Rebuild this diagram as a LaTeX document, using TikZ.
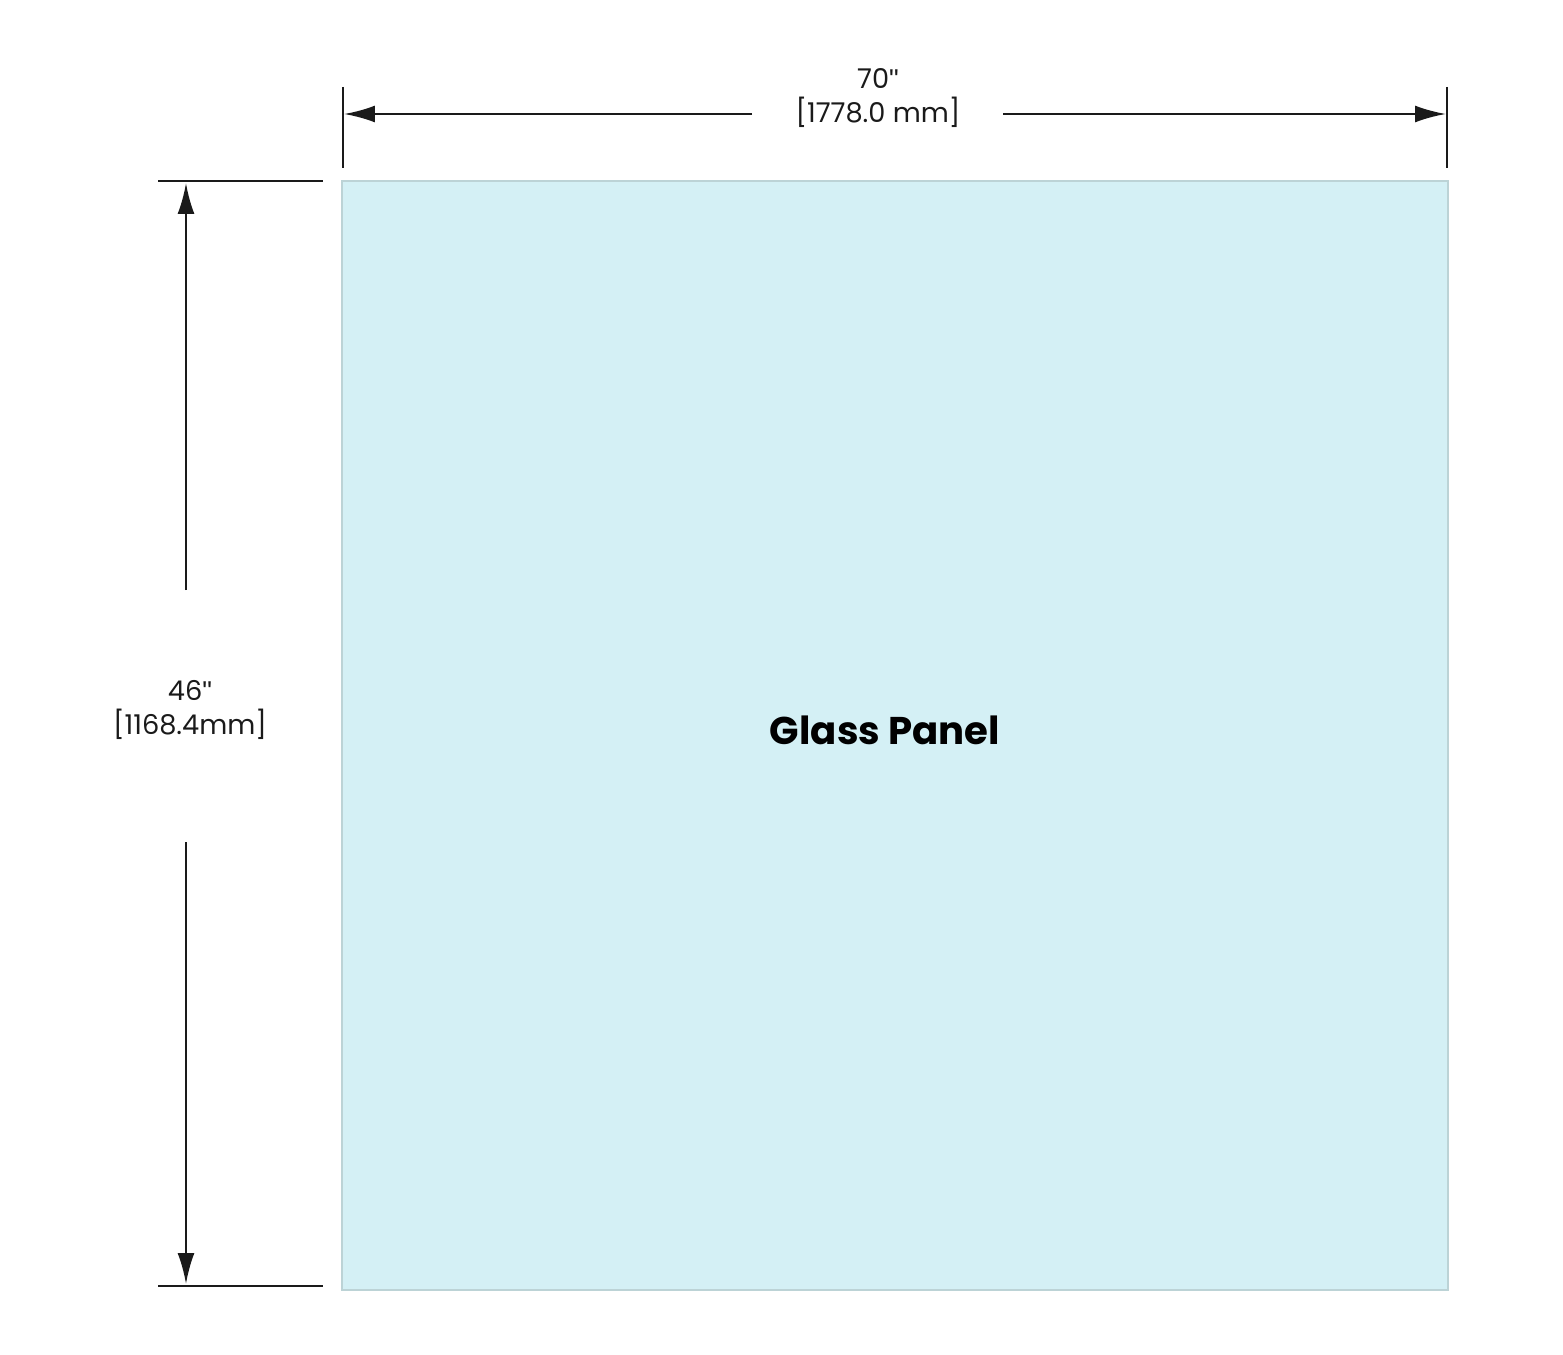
\documentclass[tikz,border=0pt]{standalone}
\usepackage{fontspec}
\setmainfont{Poppins}
\newfontfamily\MarkFont{Liberation Sans}
\usetikzlibrary{arrows.meta,positioning}
\definecolor{GlassBlue}{HTML}{D4F0F5}
\definecolor{GlassEdge}{HTML}{BCD3D6}
\definecolor{DimGray}{HTML}{1A1A1A}
\newcommand{\InchMark}{{\MarkFont\symbol{34}}}

\begin{document}
\begin{tikzpicture}[
				x=0.02cm, y=-0.02cm,
				dimarrow/.style={draw=DimGray, line width=1.4pt, -{Latex[length=0.62cm,width=0.34cm]}},
				extline/.style={draw=DimGray, line width=1.4pt},
				dimlabel/.style={font=\fontsize{15.5}{19.5}\selectfont, align=center, inner sep=0pt, text=DimGray}
				]
				\useasboundingbox (0,0) rectangle (1563,1355);
				\pgfmathsetmacro{\PanelLeft}{342}
				\pgfmathsetmacro{\PanelRight}{1448}
				\pgfmathsetmacro{\PanelTop}{181}
				\pgfmathsetmacro{\PanelBottom}{1290}
				% glass panel
				\filldraw[fill=GlassBlue, draw=GlassEdge, line width=1.3pt] (\PanelLeft,\PanelTop) rectangle (\PanelRight,\PanelBottom);
				\node[font=\fontsize{22}{26}\selectfont\bfseries] (PanelLabel) at (885,730) {Glass Panel};
				% width dimension
				\coordinate (WidthExtLTop) at (343,87);
				\coordinate (WidthExtLBot) at (343,168);
				\coordinate (WidthExtRTop) at (1447,87);
				\coordinate (WidthExtRBot) at (1447,168);
				\coordinate (WidthEndL) at (344,114);
				\coordinate (WidthEndR) at (1446,114);
				\coordinate (WidthGapL) at (752,114);
				\coordinate (WidthGapR) at (1003,114);
				\draw[extline] (WidthExtLTop) -- (WidthExtLBot);
				\draw[extline] (WidthExtRTop) -- (WidthExtRBot);
				\draw[dimarrow] (WidthGapL) -- (WidthEndL);
				\draw[dimarrow] (WidthGapR) -- (WidthEndR);
				\node[dimlabel] (WidthLabel) at (878,98) {70\InchMark\\{[}1778.0 mm{]}};
				% height dimension
				\coordinate (HeightExtTopL) at (158,181);
				\coordinate (HeightExtTopR) at (323,181);
				\coordinate (HeightExtBotL) at (158,1286);
				\coordinate (HeightExtBotR) at (323,1286);
				\coordinate (HeightEndT) at (186,183);
				\coordinate (HeightEndB) at (186,1284);
				\coordinate (HeightGapT) at (186,590);
				\coordinate (HeightGapB) at (186,842);
				\draw[extline] (HeightExtTopL) -- (HeightExtTopR);
				\draw[extline] (HeightExtBotL) -- (HeightExtBotR);
				\draw[dimarrow] (HeightGapT) -- (HeightEndT);
				\draw[dimarrow] (HeightGapB) -- (HeightEndB);
				\node[dimlabel] (HeightLabel) at (190,710) {46\InchMark\\{[}1168.4mm{]}};
			\end{tikzpicture}
\end{document}
